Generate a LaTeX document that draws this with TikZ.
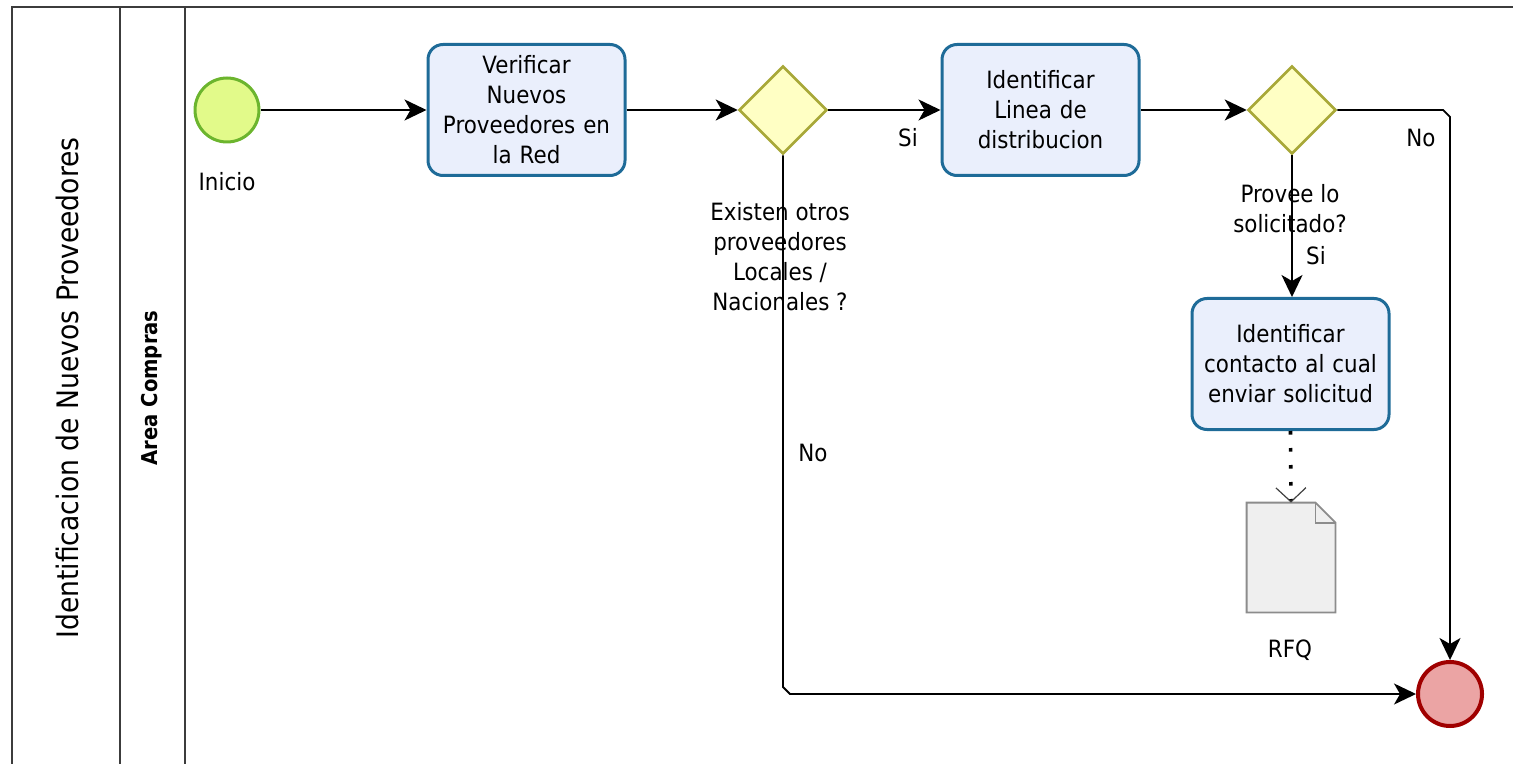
\documentclass[tikz,border=0pt]{standalone}
\usepackage{fontspec}
\setmainfont{DejaVu Sans}[FakeStretch=0.9]
\usetikzlibrary{shapes.geometric,arrows.meta,calc}

\definecolor{poolline}{RGB}{60,60,60}
\definecolor{taskfill}{RGB}{234,239,252}
\definecolor{taskline}{RGB}{30,107,152}
\definecolor{gwfill}{RGB}{255,255,196}
\definecolor{gwline}{RGB}{168,168,56}
\definecolor{startfill}{RGB}{226,250,138}
\definecolor{startline}{RGB}{108,181,46}
\definecolor{endfill}{RGB}{235,164,164}
\definecolor{endline}{RGB}{160,0,0}
\definecolor{docfill}{RGB}{239,239,239}
\definecolor{docline}{RGB}{140,140,140}

\newcommand{\bodyfont}{\fontsize{11.9}{15}\selectfont}

\begin{document}
\begin{tikzpicture}[x=0.5pt,y=-0.5pt,
  pool/.style={draw=poolline, line width=0.9pt},
  task/.style={draw=taskline, fill=taskfill, line width=1.5pt,
    rounded corners=7.5pt, minimum width=98.5pt, minimum height=65.5pt,
    text width=96pt, align=center, inner sep=0pt, font=\bodyfont},
  gateway/.style={diamond, aspect=1, draw=gwline, fill=gwfill, line width=1.3pt,
    minimum width=44pt, minimum height=44pt, inner sep=0pt},
  startev/.style={circle, draw=startline, fill=startfill, line width=1.5pt,
    minimum size=32pt, inner sep=0pt},
  endev/.style={circle, draw=endline, fill=endfill, line width=2pt,
    minimum size=32pt, inner sep=0pt},
  lbl/.style={align=center, inner sep=0pt, font=\bodyfont},
  flow/.style={draw=black, line width=0.9pt,
    -{Stealth[length=11pt,width=10.5pt,inset=3pt]}},
  assoc/.style={draw=black, line width=1.8pt, dash pattern=on 1.8pt off 6.7pt,
    -{Straight Barb[length=7pt,width=15pt,line width=0.6pt,color=black!75]}}
]
\useasboundingbox (0,0) rectangle (1513,764);

% pool and lane frame
\draw[pool] (12,764) -- (12,7) -- (1513,7);
\draw[pool] (120,7) -- (120,764);
\draw[pool] (185,7) -- (185,764);
\node[rotate=90, inner sep=0pt, font=\fontsize{14.8}{17}\selectfont] (pooltitle) at (67,388)
  {Identificacion de Nuevos Proveedores};
\node[rotate=90, inner sep=0pt, font=\fontsize{10.9}{13}\selectfont\bfseries] (lanetitle) at (152,388)
  {Area Compras};

% flow objects
\node[startev] (s) at (227,110) {};
\node[lbl] (sl) at (227,182) {Inicio};

\node[task] (t1) at (526.5,110) {Verificar\\Nuevos\\Proveedores en\\la Red};
\node[gateway] (g1) at (783,110) {};
\node[lbl] (g1l) at (780,257) {Existen otros\\proveedores\\Locales /\\Nacionales ?};

\node[task] (t2) at (1040.5,110) {Identificar\\Linea de\\distribucion};
\node[gateway] (g2) at (1292,110) {};
\node[lbl] (g2l) at (1290,209) {Provee lo\\solicitado?};

\node[task] (t3) at (1290.5,364) {Identificar\\contacto al cual\\enviar solicitud};

\node[inner sep=0pt, minimum width=44pt, minimum height=54.5pt] (rfq) at (1291,557.5) {};
\draw[draw=docline, fill=docfill, line width=0.9pt]
  (rfq.north west) -- ([xshift=-10pt]rfq.north east) -- ([yshift=-10pt]rfq.north east)
  -- (rfq.south east) -- (rfq.south west) -- cycle;
\draw[draw=docline, line width=0.9pt]
  ([xshift=-10pt]rfq.north east) -- ([xshift=-10pt,yshift=-10pt]rfq.north east)
  -- ([yshift=-10pt]rfq.north east);
\node[lbl] (rfql) at (1290,650) {RFQ};

\node[endev] (e) at (1450,694) {};

% sequence flows
\draw[flow] (s) -- (t1);
\draw[flow] (t1) -- (g1);
\draw[flow] (g1) -- (t2);
\draw[flow] (t2) -- (g2);
\draw[flow] (g2.south) -- (g2.south |- t3.north);

\coordinate (c1) at (g1.south |- e.west);
\draw[flow] (g1.south) -- ([yshift=3.5pt]c1) -- ([xshift=3.5pt]c1) -- (e.west);

\coordinate (c2) at (e.north |- g2.east);
\draw[flow] (g2.east) -- ([xshift=-3.5pt]c2) -- ([yshift=-3.5pt]c2) -- (e.north);

% association to the data object
\draw[assoc] (t3.south) -- (rfq.north);

% flow labels
\node[lbl] (si1) at (908,138) {Si};
\node[lbl] (no1) at (813,453) {No};
\node[lbl] (no2) at (1421,138) {No};
\node[lbl] (si2) at (1316,256) {Si};
\end{tikzpicture}
\end{document}
